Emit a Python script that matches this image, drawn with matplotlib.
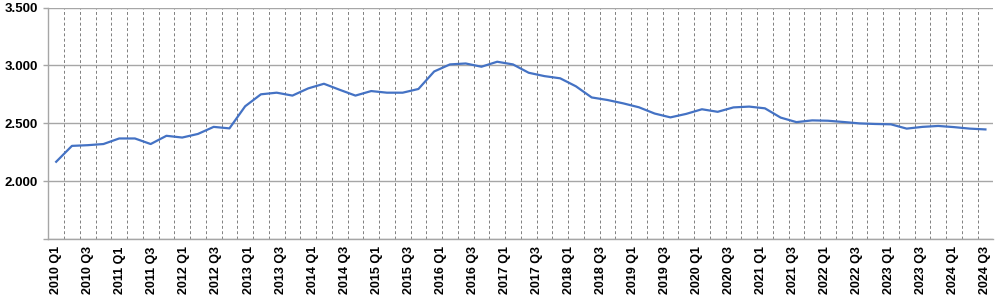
import matplotlib
matplotlib.use("Agg")
import matplotlib.pyplot as plt
from matplotlib.ticker import FixedLocator
import numpy as np

# ---- data ----
values = [2169, 2306, 2312, 2322, 2370, 2370, 2322, 2393, 2378, 2409,
          2470, 2457, 2648, 2751, 2765, 2740, 2802, 2842, 2790, 2740,
          2779, 2765, 2765, 2797, 2948, 3009, 3017, 2989, 3032, 3009,
          2937, 2908, 2889, 2820, 2724, 2702, 2673, 2639, 2585, 2552,
          2582, 2622, 2600, 2638, 2645, 2630, 2550, 2511, 2526, 2523,
          2512, 2500, 2495, 2492, 2455, 2470, 2478, 2468, 2455, 2448]
label_years = list(range(2010, 2025))
x_labels = [f"{y} Q{q}" for y in label_years for q in (1, 3)]
y_ticks = [1500, 2000, 2500, 3000, 3500]
y_labels = ["", "2.000", "2.500", "3.000", "3.500"]

# ---- figure ----
fig = plt.figure(figsize=(9.99, 2.96), dpi=100)
ax = fig.add_axes([48.3 / 999, 1 - 239.3 / 296, (993.3 - 48.3) / 999, (239.3 - 7.5) / 296])

n = len(values)
xs = np.arange(n)
ax.plot(xs, values, color="#4472C4", lw=1.6, solid_joinstyle="round", zorder=3)

ax.set_xlim(-0.5, n - 0.5)
ax.set_ylim(y_ticks[0], y_ticks[-1])

# horizontal gridlines
ax.set_yticks(y_ticks)
ax.set_yticklabels(y_labels, fontfamily="Liberation Sans", fontweight="bold", fontsize=9.5)
ax.yaxis.grid(True, color="#a6a6a6", lw=1.0)
ax.tick_params(axis="y", length=3.5, width=1.0, color="#a6a6a6", pad=4)

# category labels (label axis has one category fewer than the plotted series)
n_lab_cats = 2 * len(x_labels) - 1
lab_pos = [-0.5 + (2 * j + 0.5) * n / n_lab_cats for j in range(len(x_labels))]
ax.set_xticks(lab_pos)
ax.set_xticklabels(x_labels, rotation=90, fontfamily="Liberation Sans",
                   fontweight="bold", fontsize=9)
ax.tick_params(axis="x", length=0, pad=5)

# vertical dashed gridlines at category boundaries
ax.xaxis.set_minor_locator(FixedLocator(np.arange(0.5, n, 1.0)))
ax.tick_params(axis="x", which="minor", length=0)
ax.grid(True, which="minor", axis="x", color="#7f7f7f", lw=0.7, linestyle=(0, (3, 2.5)))
ax.set_axisbelow(True)

for s in ("top", "right"):
    ax.spines[s].set_visible(False)
for s in ("left", "bottom"):
    ax.spines[s].set_color("#a6a6a6")
    ax.spines[s].set_linewidth(1.0)

fig.savefig("out.png", dpi=100)
